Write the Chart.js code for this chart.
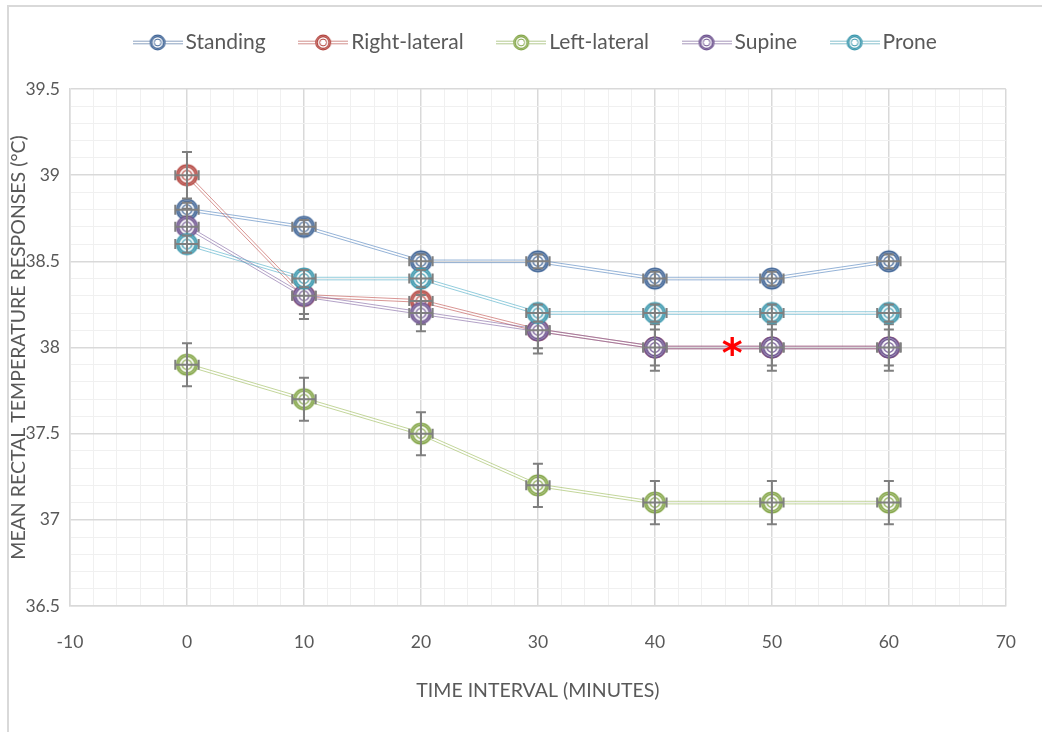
<!DOCTYPE html>
<html>
<head>
<meta charset="utf-8">
<script src="https://cdn.jsdelivr.net/npm/chart.js@4.4.1/dist/chart.umd.min.js"></script>
<style>
  html, body { margin: 0; padding: 0; background: #fff; }
  #tempChart { display: block; }
</style>
</head>
<body>
<canvas id="tempChart" width="1042" height="732"></canvas>
<script>
// time points (minutes)
const minutes = [0, 10, 20, 30, 40, 50, 60];

// mean rectal temperature per position (°C)
const seriesNames = ['Standing', 'Right-lateral', 'Left-lateral', 'Supine', 'Prone'];
const standing     = [38.8, 38.7, 38.5, 38.5, 38.4, 38.4, 38.5];
const rightLateral = [39.0, 38.3, 38.27, 38.1, 38.0, 38.0, 38.0];
const leftLateral  = [37.9, 37.7, 37.5, 37.2, 37.1, 37.1, 37.1];
const supine       = [38.7, 38.3, 38.2, 38.1, 38.0, 38.0, 38.0];
const prone        = [38.6, 38.4, 38.4, 38.2, 38.2, 38.2, 38.2];

// error bar sizes: temperature (°C) per series, time (min) shared
const tempError = [0.04, 0.135, 0.125, 0.105, 0.05];
const timeError = 1;

// axis ranges
const xRange = [-10, 70];
const yRange = [36.5, 39.5];

// significance mark
const starMark = { x: 46.6, y: 38.0, text: '*' };

const baseColors   = ['#4F81BD', '#C0504D', '#9BBB59', '#8064A2', '#4BACC6'];
const markerColors = ['#3f6496', '#b3443e', '#84a648', '#6c518e', '#3896ac'];
const lineColors   = ['rgba(79,129,189,0.6)', 'rgba(192,80,77,0.6)', 'rgba(155,187,89,0.6)',
                      'rgba(128,100,162,0.6)', 'rgba(75,172,198,0.6)'];
const allSeries = [standing, rightLateral, leftLateral, supine, prone];

const FONT = 'Lato, "Open Sans", sans-serif';
const TEXT = '#595959';

// concentric ring marker drawn into an offscreen canvas
function makeMarker(color, r, withLine) {
  const w = withLine ? 50 : Math.ceil(r * 2 + 4);
  const h = Math.ceil(r * 2 + 4);
  const c = document.createElement('canvas');
  c.width = w; c.height = h;
  const g = c.getContext('2d');
  const mx = w / 2, my = h / 2;
  if (withLine) {
    g.strokeStyle = color;
    g.globalAlpha = 0.6;
    g.lineWidth = 1;
    [-1.3, 1.3].forEach(o => {
      g.beginPath(); g.moveTo(0, my + o); g.lineTo(w, my + o); g.stroke();
    });
    g.globalAlpha = 1;
  }
  g.fillStyle = '#fff';
  g.beginPath(); g.arc(mx, my, r, 0, Math.PI * 2); g.fill();
  g.strokeStyle = color;
  g.globalAlpha = 0.4;
  g.lineWidth = r * 0.2;
  g.beginPath(); g.arc(mx, my, r * 0.88, 0, Math.PI * 2); g.stroke();
  g.globalAlpha = 1;
  g.lineWidth = Math.max(1.2, r * 0.15);
  g.beginPath(); g.arc(mx, my, r * 0.98, 0, Math.PI * 2); g.stroke();
  g.beginPath(); g.arc(mx, my, r * 0.78, 0, Math.PI * 2); g.stroke();
  g.lineWidth = Math.max(1, r * 0.12);
  g.beginPath(); g.arc(mx, my, r * 0.46, 0, Math.PI * 2); g.stroke();
  return c;
}

const pointMarkers = markerColors.map(c => makeMarker(c, 10.5, false));
const legendIcons = markerColors.map(c => makeMarker(c, 7.5, true));

const isMajorY = v => Math.abs(v * 2 - Math.round(v * 2)) < 1e-6;
const isMajorX = v => Math.abs(v / 10 - Math.round(v / 10)) < 1e-6;

// page frame
const framePlugin = {
  id: 'frame',
  beforeDraw(chart) {
    const ctx = chart.ctx;
    ctx.save();
    ctx.fillStyle = '#fff';
    ctx.fillRect(0, 0, chart.width, chart.height);
    ctx.strokeStyle = '#d9d9d9';
    ctx.lineWidth = 2;
    ctx.beginPath();
    ctx.moveTo(8, chart.height + 2);
    ctx.lineTo(8, 6);
    ctx.lineTo(chart.width + 2, 6);
    ctx.stroke();
    ctx.restore();
  }
};

// reserve room above the plot for the legend and nudge it sideways
const legendSpace = {
  id: 'legendSpace',
  afterInit(chart) {
    const legend = chart.legend;
    const fit = legend.fit;
    legend.fit = function () { fit.call(this); this.height = 97; };
  },
  afterLayout(chart) {
    chart.legend.left += 33;
    chart.legend.right += 33;
  }
};

// compound (double) connecting lines
const doubleLine = {
  id: 'doubleLine',
  beforeDatasetDraw(chart, args) {
    const pts = args.meta.data;
    const ctx = chart.ctx;
    ctx.save();
    ctx.strokeStyle = lineColors[args.index];
    ctx.lineWidth = 1;
    [-1.3, 1.3].forEach(off => {
      ctx.beginPath();
      for (let i = 0; i < pts.length - 1; i++) {
        const a = pts[i], b = pts[i + 1];
        const dx = b.x - a.x, dy = b.y - a.y;
        const len = Math.hypot(dx, dy) || 1;
        const nx = -dy / len * off, ny = dx / len * off;
        ctx.moveTo(a.x + nx, a.y + ny);
        ctx.lineTo(b.x + nx, b.y + ny);
      }
      ctx.stroke();
    });
    ctx.restore();
  }
};

// x and y error bars with caps
const errorBars = {
  id: 'errorBars',
  afterDatasetDraw(chart, args) {
    const i = args.index;
    const xs = chart.scales.x, ys = chart.scales.y;
    const ctx = chart.ctx;
    const vals = allSeries[i];
    ctx.save();
    ctx.strokeStyle = '#7f7f7f';
    ctx.lineWidth = 2;
    const cap = 5;
    minutes.forEach((m, k) => {
      const px = xs.getPixelForValue(m);
      const py = ys.getPixelForValue(vals[k]);
      const x0 = xs.getPixelForValue(m - timeError), x1 = xs.getPixelForValue(m + timeError);
      const y0 = ys.getPixelForValue(vals[k] + tempError[i]), y1 = ys.getPixelForValue(vals[k] - tempError[i]);
      ctx.beginPath();
      ctx.moveTo(x0, py); ctx.lineTo(x1, py);
      ctx.moveTo(x0, py - cap); ctx.lineTo(x0, py + cap);
      ctx.moveTo(x1, py - cap); ctx.lineTo(x1, py + cap);
      ctx.moveTo(px, y0); ctx.lineTo(px, y1);
      ctx.moveTo(px - cap, y0); ctx.lineTo(px + cap, y0);
      ctx.moveTo(px - cap, y1); ctx.lineTo(px + cap, y1);
      ctx.stroke();
    });
    ctx.restore();
  }
};

// red asterisk for significance
const starPlugin = {
  id: 'star',
  afterDatasetsDraw(chart) {
    const ctx = chart.ctx;
    const x = chart.scales.x.getPixelForValue(starMark.x);
    const y = chart.scales.y.getPixelForValue(starMark.y);
    ctx.save();
    ctx.fillStyle = '#ff0000';
    ctx.font = 'bold 40px "DejaVu Sans", sans-serif';
    ctx.textAlign = 'center';
    ctx.textBaseline = 'alphabetic';
    ctx.fillText(starMark.text, x, y + 19);
    ctx.restore();
  }
};

const datasets = seriesNames.map((name, i) => ({
  label: name,
  data: minutes.map((m, k) => ({ x: m, y: allSeries[i][k] })),
  showLine: false,
  pointStyle: pointMarkers[i],
  pointRadius: 11,
  pointHoverRadius: 11,
  borderColor: baseColors[i],
  backgroundColor: baseColors[i],
  order: seriesNames.length - i
}));

new Chart(document.getElementById('tempChart'), {
  type: 'scatter',
  data: { datasets },
  options: {
    responsive: false,
    animation: false,
    layout: { padding: { left: 0, right: 31, top: -8, bottom: 0 } },
    plugins: {
      tooltip: { enabled: false },
      legend: {
        position: 'top',
        labels: {
          usePointStyle: true,
          pointStyleWidth: 35,
          padding: 40,
          color: TEXT,
          font: { family: FONT, size: 21 },
          generateLabels(chart) {
            const items = Chart.defaults.plugins.legend.labels.generateLabels(chart);
            items.forEach(it => { it.pointStyle = legendIcons[it.datasetIndex]; });
            return items.sort((a, b) => a.datasetIndex - b.datasetIndex);
          }
        }
      }
    },
    scales: {
      x: {
        type: 'linear',
        min: xRange[0],
        max: xRange[1],
        afterFit(s) { s.height = 126; },
        border: { color: '#d9d9d9', width: 1.5 },
        grid: {
          drawTicks: false,
          color: c => isMajorX(c.tick.value) ? '#d9d9d9' : '#f0f0f0',
          lineWidth: c => isMajorX(c.tick.value) ? 1.5 : 1
        },
        ticks: {
          stepSize: 2,
          autoSkip: false,
          maxRotation: 0,
          padding: 26,
          color: TEXT,
          font: { family: FONT, size: 17.5 },
          callback: v => isMajorX(v) ? String(v) : ''
        },
        title: {
          display: true,
          text: 'TIME INTERVAL (MINUTES)',
          color: TEXT,
          font: { family: FONT, size: 19.5 },
          padding: { top: 0, bottom: 30 }
        }
      },
      y: {
        type: 'linear',
        min: yRange[0],
        max: yRange[1],
        afterFit(s) { s.width = 70; },
        border: { color: '#d9d9d9', width: 1.5 },
        grid: {
          drawTicks: false,
          color: c => isMajorY(c.tick.value) ? '#d9d9d9' : '#f0f0f0',
          lineWidth: c => isMajorY(c.tick.value) ? 1.5 : 1
        },
        ticks: {
          stepSize: 0.1,
          autoSkip: false,
          padding: 10,
          color: TEXT,
          font: { family: FONT, size: 17.5 },
          callback: v => isMajorY(v) ? String(parseFloat(v.toFixed(1))) : ''
        },
        title: {
          display: true,
          text: 'MEAN RECTAL TEMPERATURE RESPONSES (°C)',
          color: TEXT,
          font: { family: FONT, size: 19.5 },
          padding: { top: 7, bottom: 0 }
        }
      }
    }
  },
  plugins: [framePlugin, legendSpace, doubleLine, errorBars, starPlugin]
});
</script>
</body>
</html>
